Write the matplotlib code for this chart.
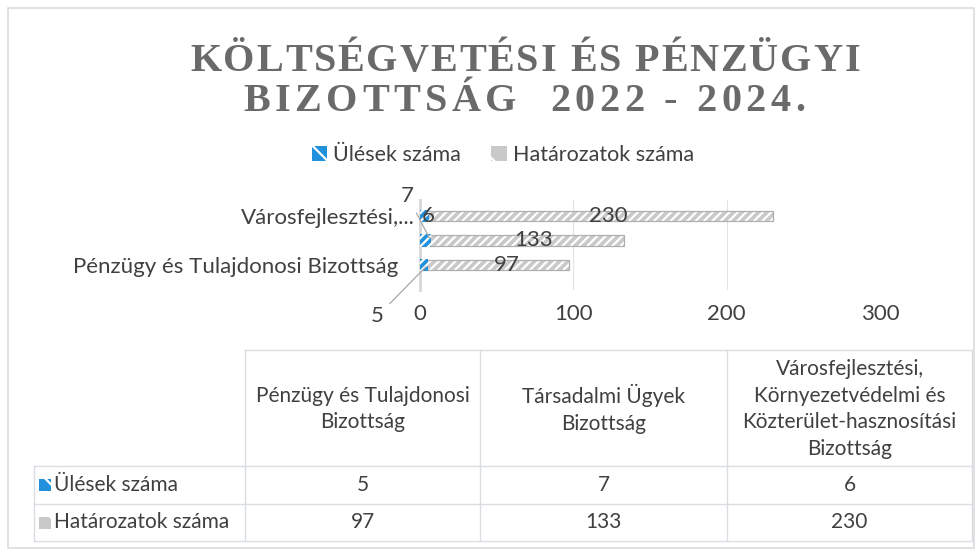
import matplotlib.pyplot as plt
from matplotlib.patches import Patch, Rectangle

# adatok
bizottsagok = ['Pénzügy és Tulajdonosi Bizottság',
               'Társadalmi Ügyek Bizottság',
               'Városfejlesztési, Környezetvédelmi és Közterület-hasznosítási Bizottság']
tengely_cimkek = ['Pénzügy és Tulajdonosi Bizottság', '', 'Városfejlesztési,...']
fejlec = ['Pénzügy és Tulajdonosi\nBizottság',
          'Társadalmi Ügyek\nBizottság',
          'Városfejlesztési,\nKörnyezetvédelmi és\nKözterület-hasznosítási\nBizottság']
sorozatok = ['Ülések száma', 'Határozatok száma']
ulesek = [5, 7, 6]
hatarozatok = [97, 133, 230]
x_ticks = [0, 100, 200, 300]
cim = ['KÖLTSÉGVETÉSI ÉS PÉNZÜGYI', 'BIZOTTSÁG  2022 - 2024.']

KEK = '#2390dc'
SZURKE = '#c9c9c9'
SZOVEG = '#404040'
VONAL = '#dadde2'
FONT = 'Lato'
BETU = 16

W, H = 978, 553
fig = plt.figure(figsize=(W / 100, H / 100), dpi=100)
plt.rcParams['hatch.linewidth'] = 1.6


def fx(x):
    return x / W


def fy(y):
    return 1 - y / H


# keret
bg = fig.add_axes([0, 0, 1, 1])
bg.set_xlim(0, W)
bg.set_ylim(H, 0)
bg.axis('off')
bg.add_patch(Rectangle((8, 8), 966, 540, fill=False, edgecolor='#dcdcdc', lw=1.2))

# cím ritkított betűkkel
renderer = fig.canvas.get_renderer()


def szelesseg(s, size):
    t = fig.text(0, 0, s, fontsize=size, family='Liberation Serif', weight='bold')
    w = t.get_window_extent(renderer).width
    t.remove()
    return w


def ritkitott(szoveg, xc, y, size, cel):
    base = szelesseg('||', size)
    ws = [szelesseg('|' + ch + '|', size) - base for ch in szoveg]
    track = (cel - sum(ws)) / (len(szoveg) - 1)
    x = xc - cel / 2
    for ch, w in zip(szoveg, ws):
        fig.text(fx(x), fy(y), ch, fontsize=size, family='Liberation Serif',
                 weight='bold', color='#6a6a6a', va='baseline', ha='left')
        x += w + track


ritkitott(cim[0], 525, 71, 29, 670)
ritkitott(cim[1], 524, 111, 29, 562)

# diagram
ax = fig.add_axes([fx(420), fy(290), fx(880) - fx(420), fy(200) - fy(290)])
ypos = list(range(len(bizottsagok)))
ax.barh(ypos, hatarozatok, height=0.44, color=SZURKE, edgecolor='white', hatch='////', lw=0, zorder=2)
ax.barh(ypos, hatarozatok, height=0.44, fill=False, edgecolor='#b0b0b0', lw=0.9, zorder=3)
ax.barh(ypos, ulesek, height=0.5, color=KEK, edgecolor='white', hatch='////', lw=0, zorder=4)

ax.set_xlim(0, 300)
ax.set_ylim(-1.02, 2.65)
ax.set_xticks(x_ticks)
ax.set_yticks([0, 2])
ax.set_yticklabels([tengely_cimkek[0], tengely_cimkek[2]])
ax.tick_params(length=0, labelsize=BETU, labelcolor=SZOVEG)
ax.tick_params(axis='x', pad=10)
ax.yaxis.get_major_ticks()[0].set_pad(16)
ax.yaxis.get_major_ticks()[1].set_pad(4)
for lab in ax.get_xticklabels() + ax.get_yticklabels():
    lab.set_family(FONT)
ax.grid(axis='x', color='#e3e3e3', lw=0.8, zorder=0)
for s in ['top', 'right', 'bottom']:
    ax.spines[s].set_visible(False)
ax.spines['left'].set_color('#d6d6d6')
ax.spines['left'].set_linewidth(2)
ax.set_facecolor('none')

# adatcímkék
for y, v in zip(ypos, hatarozatok):
    ax.annotate(str(v), xy=(v / 2, y), xytext=(12, 0), textcoords='offset pixels',
                ha='center', va='center', fontsize=BETU, color=SZOVEG, family=FONT, zorder=6)
eltolas = [(-50, -51), (-23, 44), (-1, 0)]
for y, v, (dx, dy) in zip(ypos, ulesek, eltolas):
    kwargs = {}
    if dy != 0:
        kwargs['arrowprops'] = dict(arrowstyle='-', color='#a8a8a8', lw=0.9, shrinkA=3, shrinkB=2)
    ax.annotate(str(v), xy=(v, y), xytext=(dx, dy), textcoords='offset pixels',
                ha='center', va='center', fontsize=BETU, color=SZOVEG, family=FONT,
                zorder=6, annotation_clip=False, **kwargs)

# jelmagyarázat
kezelok = [Patch(facecolor=KEK, edgecolor='white', hatch='\\', lw=0),
           Patch(facecolor=SZURKE, edgecolor='white', hatch='\\', lw=0)]
fig.legend(kezelok, sorozatok, loc='center', bbox_to_anchor=(fx(503), fy(155)), ncol=2,
           frameon=False, prop={'family': FONT, 'size': 15.5}, labelcolor=SZOVEG,
           handlelength=0.7, handleheight=0.7, handletextpad=0.3, columnspacing=1.4)

# adattábla
tab_bal, cimke_jobb = 34, 245
oszlopok = [245, 480, 727, 972]
sor_y = [350, 466, 504, 541]
bg.plot([cimke_jobb, oszlopok[-1]], [sor_y[0]] * 2, color=VONAL, lw=1)
for yy in sor_y[1:]:
    bg.plot([tab_bal, oszlopok[-1]], [yy] * 2, color=VONAL, lw=1)
for xx in oszlopok:
    bg.plot([xx] * 2, [sor_y[0], sor_y[-1]], color=VONAL, lw=1)
bg.plot([tab_bal] * 2, [sor_y[1], sor_y[-1]], color=VONAL, lw=1)

for i, szoveg in enumerate(fejlec):
    xc = (oszlopok[i] + oszlopok[i + 1]) / 2
    bg.text(xc, (sor_y[0] + sor_y[1]) / 2 + 1, szoveg, ha='center', va='center',
            fontsize=15, color=SZOVEG, family=FONT, linespacing=1.4)

sorok = [ulesek, hatarozatok]
szinek = [KEK, SZURKE]
for r, (nev, ertekek, szin) in enumerate(zip(sorozatok, sorok, szinek)):
    yc = (sor_y[r + 1] + sor_y[r + 2]) / 2
    bg.add_patch(Rectangle((tab_bal + 5, yc - 6), 12, 12, facecolor=szin, edgecolor='white',
                           hatch='\\', lw=0))
    bg.text(tab_bal + 20, yc, nev, ha='left', va='center', fontsize=15, color=SZOVEG, family=FONT)
    for i, v in enumerate(ertekek):
        xc = (oszlopok[i] + oszlopok[i + 1]) / 2
        bg.text(xc, yc, str(v), ha='center', va='center', fontsize=15, color=SZOVEG, family=FONT)

fig.savefig('out.png', dpi=100)
